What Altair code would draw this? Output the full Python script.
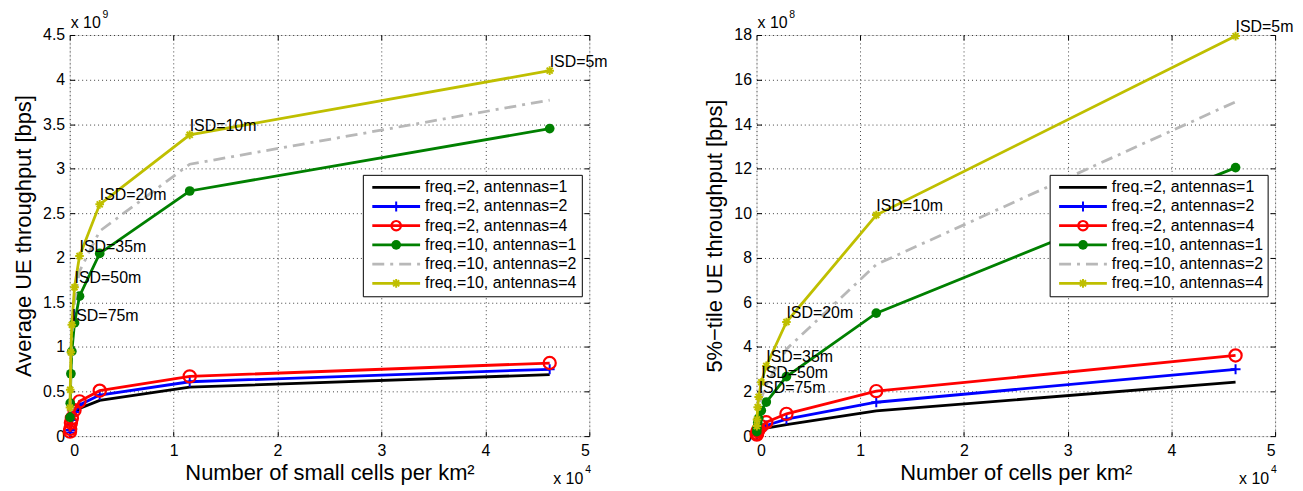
import altair as alt
import pandas as pd

# ---------------- data ----------------
cells_per_km2 = [46188, 11547, 2887, 943, 462, 205, 115, 51, 29]
isd_labels = ["ISD=5m", "ISD=10m", "ISD=20m", "ISD=35m", "ISD=50m", "ISD=75m"]
series_names = [
    "freq.=2, antennas=1",
    "freq.=2, antennas=2",
    "freq.=2, antennas=4",
    "freq.=10, antennas=1",
    "freq.=10, antennas=2",
    "freq.=10, antennas=4",
]

# Average UE throughput, in units of 1e9 bps
avg_f2_a1 = [0.69, 0.55, 0.40, 0.31, 0.24, 0.16, 0.12, 0.06, 0.035]
avg_f2_a2 = [0.75, 0.61, 0.46, 0.35, 0.27, 0.18, 0.13, 0.07, 0.04]
avg_f2_a4 = [0.82, 0.67, 0.51, 0.39, 0.29, 0.20, 0.15, 0.08, 0.05]
avg_f10_a1 = [3.45, 2.75, 2.05, 1.57, 1.27, 0.95, 0.70, 0.37, 0.21]
avg_f10_a2 = [3.77, 3.05, 2.30, 1.85, 1.50, 1.12, 0.83, 0.45, 0.27]
avg_f10_a4 = [4.10, 3.38, 2.60, 2.02, 1.67, 1.25, 0.94, 0.52, 0.32]

# 5%-tile UE throughput, in units of 1e8 bps
p5_f2_a1 = [2.42, 1.13, 0.52, 0.36, 0.26, 0.18, 0.13, 0.07, 0.04]
p5_f2_a2 = [3.00, 1.52, 0.76, 0.48, 0.35, 0.24, 0.17, 0.09, 0.05]
p5_f2_a4 = [3.62, 2.02, 1.00, 0.62, 0.45, 0.30, 0.22, 0.12, 0.07]
p5_f10_a1 = [12.05, 5.52, 2.67, 1.53, 1.15, 0.80, 0.60, 0.35, 0.20]
p5_f10_a2 = [15.0, 7.7, 3.9, 2.3, 1.7, 1.25, 0.95, 0.55, 0.33]
p5_f10_a4 = [17.95, 9.92, 5.12, 3.15, 2.42, 1.76, 1.30, 0.75, 0.45]

avg_series = [avg_f2_a1, avg_f2_a2, avg_f2_a4, avg_f10_a1, avg_f10_a2, avg_f10_a4]
p5_series = [p5_f2_a1, p5_f2_a2, p5_f2_a4, p5_f10_a1, p5_f10_a2, p5_f10_a4]

# ---------------- styles ----------------
FONT = "Liberation Sans"
PLUS = "M-1,0L1,0M0,-1L0,1"
STAR = "M-1,0L1,0M0,-1L0,1M-0.7,-0.7L0.7,0.7M-0.7,0.7L0.7,-0.7"
STYLES = [
    dict(color="#000000", marker=None, dash=None),
    dict(color="#0000ff", marker="plus", dash=None),
    dict(color="#ff0000", marker="ocircle", dash=None),
    dict(color="#008000", marker="dot", dash=None),
    dict(color="#b8b8b8", marker=None, dash=[12, 6, 3, 6]),
    dict(color="#bfbf00", marker="star", dash=None),
]
LW = 2.8
H = 403
FS = 16


def point_mark(sty):
    m = sty["marker"]
    c = sty["color"]
    if m == "plus":
        return dict(shape=PLUS, filled=False, stroke=c, strokeWidth=2, size=100, opacity=1)
    if m == "star":
        return dict(shape=STAR, filled=False, stroke=c, strokeWidth=2, size=75, opacity=1)
    if m == "ocircle":
        return dict(shape="circle", filled=False, stroke=c, strokeWidth=2.2, size=150, opacity=1)
    if m == "dot":
        return dict(shape="circle", filled=True, fill=c, stroke=c, strokeWidth=0, size=95, opacity=1)
    return None


def panel(series, W, ymax, ystep, xtitle, ytitle, yexp):
    xs = alt.Scale(domain=[0, 5], nice=False, zero=True)
    ys = alt.Scale(domain=[0, ymax], nice=False, zero=True)
    yvals = [round(ystep * k, 6) for k in range(int(round(ymax / ystep)) + 1)]
    xvals = [0, 1, 2, 3, 4, 5]

    main_x = alt.Axis(values=xvals, format="~g", title=xtitle, ticks=False, domain=False,
                      grid=True, gridDash=[1, 3], gridColor="#000000", gridOpacity=0.75,
                      labelFontSize=FS, titleFontSize=22, titleFontWeight="normal",
                      labelPadding=6, titlePadding=5, labelColor="#000", titleColor="#000")
    main_y = alt.Axis(values=yvals, format="~g", title=ytitle, ticks=False, domain=False,
                      grid=True, gridDash=[1, 3], gridColor="#000000", gridOpacity=0.75,
                      labelFontSize=FS, titleFontSize=22, titleFontWeight="normal",
                      labelPadding=5, titlePadding=7, labelColor="#000", titleColor="#000")
    tick_common = dict(labels=False, domain=False, grid=False, title=None, ticks=True,
                       tickSize=5, tickColor="#000000", tickWidth=1)
    axA_x = alt.Axis(values=xvals, orient="top", offset=-H, **tick_common)
    axA_y = alt.Axis(values=yvals, orient="right", offset=-W, **tick_common)
    axB_x = alt.Axis(values=xvals, orient="bottom", offset=-H, **tick_common)
    axB_y = alt.Axis(values=yvals, orient="left", offset=-W, **tick_common)
    axis_sets = [(main_x, main_y), (axA_x, axA_y), (axB_x, axB_y)]

    layers = []
    for i, (name, vals, sty) in enumerate(zip(series_names, series, STYLES)):
        df = pd.DataFrame({"x": [c / 1e4 for c in cells_per_km2], "y": vals, "series": name})
        if i < 3:
            axx, axy = axis_sets[i]
        else:
            axx, axy = None, None
        lkw = dict(color=sty["color"], strokeWidth=LW)
        if sty["dash"]:
            lkw["strokeDash"] = sty["dash"]
        layers.append(
            alt.Chart(df).mark_line(**lkw).encode(
                x=alt.X("x:Q", scale=xs, axis=axx),
                y=alt.Y("y:Q", scale=ys, axis=axy),
            )
        )
        pm = point_mark(sty)
        if pm:
            layers.append(
                alt.Chart(df).mark_point(**pm).encode(
                    x=alt.X("x:Q", scale=xs, axis=None),
                    y=alt.Y("y:Q", scale=ys, axis=None),
                )
            )

    # ISD annotations on the freq.=10, antennas=4 curve
    top = series[5]
    lab = pd.DataFrame({
        "x": [c / 1e4 for c in cells_per_km2[:len(isd_labels)]],
        "y": top[:len(isd_labels)],
        "label": isd_labels,
    })
    layers.append(
        alt.Chart(lab).mark_text(align="left", baseline="middle", dy=-9, fontSize=FS,
                                 color="#000").encode(
            x=alt.X("x:Q", scale=xs, axis=None),
            y=alt.Y("y:Q", scale=ys, axis=None),
            text="label:N",
        )
    )

    one = pd.DataFrame({"k": [0]})
    # exponent annotations
    layers.append(alt.Chart(one).mark_text(align="left", baseline="middle", fontSize=FS, color="#000")
                  .encode(x=alt.value(1), y=alt.value(-12), text=alt.value("x 10")))
    layers.append(alt.Chart(one).mark_text(align="left", baseline="middle", fontSize=10.5, color="#000")
                  .encode(x=alt.value(33), y=alt.value(-20), text=alt.value(yexp)))
    layers.append(alt.Chart(one).mark_text(align="right", baseline="middle", fontSize=FS, color="#000")
                  .encode(x=alt.value(W - 6), y=alt.value(H + 43), text=alt.value("x 10")))
    layers.append(alt.Chart(one).mark_text(align="left", baseline="middle", fontSize=10.5, color="#000")
                  .encode(x=alt.value(W - 4), y=alt.value(H + 34), text=alt.value("4")))

    # legend
    lx0, lx1, ly0, ly1 = 295, W - 7, 141, 263
    layers.append(alt.Chart(one).mark_rect(fill="white", stroke="black", strokeWidth=1)
                  .encode(x=alt.value(lx0), x2=alt.value(lx1), y=alt.value(ly0), y2=alt.value(ly1)))
    for i, (name, sty) in enumerate(zip(series_names, STYLES)):
        py = 153 + 19.3 * i
        d = pd.DataFrame({"label": [name]})
        rkw = dict(color=sty["color"], strokeWidth=LW)
        if sty["dash"]:
            rkw["strokeDash"] = sty["dash"]
        layers.append(alt.Chart(d).mark_rule(**rkw)
                      .encode(x=alt.value(lx0 + 9), x2=alt.value(lx0 + 57), y=alt.value(py)))
        pm = point_mark(sty)
        if pm:
            if sty["marker"] == "ocircle":
                pm = dict(pm, size=90)
            layers.append(alt.Chart(d).mark_point(**pm)
                          .encode(x=alt.value(lx0 + 33), y=alt.value(py)))
        layers.append(alt.Chart(d).mark_text(align="left", baseline="middle", fontSize=FS, color="#000")
                      .encode(x=alt.value(lx0 + 62), y=alt.value(py), text="label:N"))

    return alt.layer(*layers).resolve_axis(x="independent", y="independent").properties(width=W, height=H)


left = panel(avg_series, 522, 4.5, 0.5,
             "Number of small cells per km²", "Average UE throughput [bps]", "9")
right = panel(p5_series, 521, 18, 2,
              "Number of cells per km²", "5%−tile UE throughput [bps]", "8")

chart = alt.hconcat(left, right, spacing=168, bounds="flush").properties(
    padding={"left": 4, "top": 0, "right": 0, "bottom": 0}
).configure_view(stroke="#000000", strokeWidth=1).configure_axis(
    labelFont=FONT, titleFont=FONT
).configure_text(font=FONT).configure(background="white")

chart.save("out.html", embed_options={"renderer": "svg", "actions": False})
